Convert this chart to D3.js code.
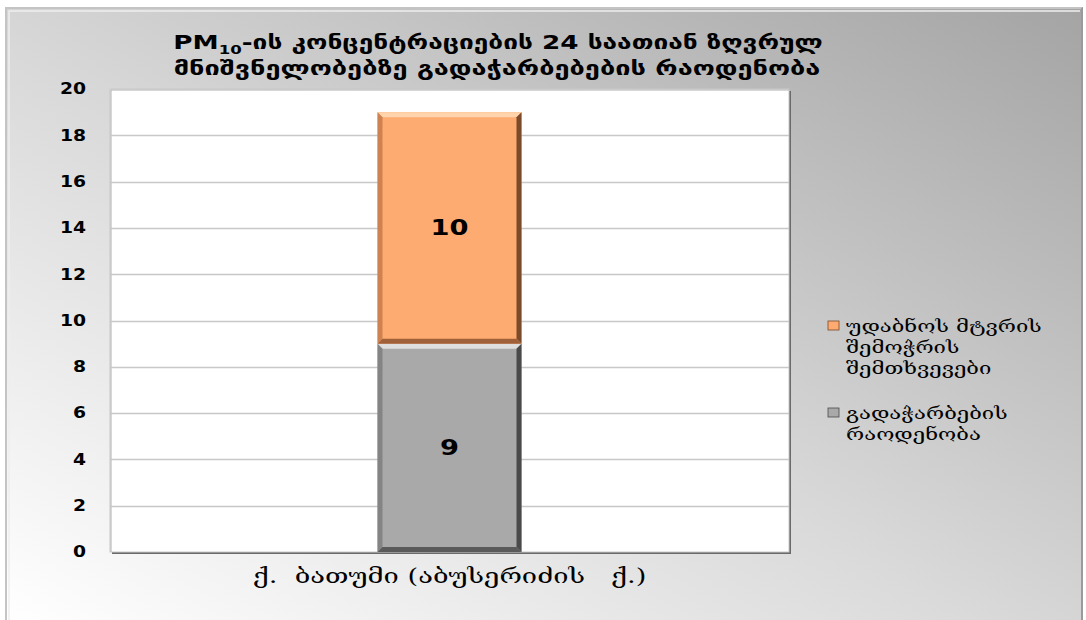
<!DOCTYPE html>
<html><head><meta charset="utf-8">
<script src="https://cdn.jsdelivr.net/npm/d3@7"></script>
<style>html,body{margin:0;padding:0;background:#fff;}svg{display:block;}</style>
</head><body>
<svg id="c" width="1086" height="620"></svg>
<script>
const categories = ["ქ.  ბათუმი (აბუსერიძის   ქ.)"];
const seriesNames = ["გადაჭარბების რაოდენობა", "უდაბნოს მტვრის შემოჭრის შემთხვევები"];
const exceedances = [9];
const dustEvents = [10];
const yTicks = [0, 2, 4, 6, 8, 10, 12, 14, 16, 18, 20];
const titleLine1 = ["PM", "10", "-ის კონცენტრაციების 24 საათიან ზღვრულ"];
const titleLine2 = "მნიშვნელობებზე გადაჭარბებების რაოდენობა";
const legendLines = [["უდაბნოს მტვრის", "შემოჭრის", "შემთხვევები"], ["გადაჭარბების", "რაოდენობა"]];

const svg = d3.select("#c");
const defs = svg.append("defs");
const g = defs.append("linearGradient").attr("id","bg").attr("x1",0).attr("y1",1).attr("x2",1).attr("y2",0);
g.append("stop").attr("offset",0).attr("stop-color","#ffffff");
g.append("stop").attr("offset",0.45).attr("stop-color","#dadada");
g.append("stop").attr("offset",1).attr("stop-color","#a4a4a4");

// horizontal stretch helper (reference text is horizontally wide)
function stretch(sel, f){
  sel.each(function(){
    const t = d3.select(this);
    const x0 = +(t.attr("x") || 0);
    t.attr("x", x0 / f).attr("transform", `scale(${f},1)`);
  });
}

// outer frame
svg.append("rect").attr("x",5).attr("y",7).attr("width",1078).attr("height",615).attr("fill","url(#bg)");
svg.append("path").attr("d","M6,620 V8 H1082").attr("fill","none").attr("stroke","#c4c4c4").attr("stroke-width",2);
svg.append("path").attr("d","M9,620 V11 H1080").attr("fill","none").attr("stroke","#eeeeee").attr("stroke-width",1.5);
svg.append("path").attr("d","M1082,8 V620").attr("fill","none").attr("stroke","#9a9a9a").attr("stroke-width",2);

const pl = 110, pr = 789, pt = 89, pb = 552;
const y = d3.scaleLinear().domain([0,20]).range([pb,pt]);
const x = d3.scaleBand().domain(categories).range([pl,pr]).padding(0.65);

// plot area with shadow
svg.append("rect").attr("x",pl+2).attr("y",pt+2).attr("width",pr-pl).attr("height",pb-pt).attr("fill","#6a6a6a");
svg.append("rect").attr("x",pl).attr("y",pt).attr("width",pr-pl).attr("height",pb-pt).attr("fill","#ffffff")
  .attr("stroke","#c8c8c8").attr("stroke-width",1);
svg.append("path").attr("d",`M${pl+1},${pb} V${pt+1} H${pr}`).attr("fill","none").attr("stroke","#b0b0b0").attr("stroke-width",1);

// gridlines
svg.append("g").selectAll("line").data(yTicks.filter(d=>d>0 && d<20)).join("line")
  .attr("x1",pl).attr("x2",pr).attr("y1",d=>Math.round(y(d))+0.5).attr("y2",d=>Math.round(y(d))+0.5)
  .attr("stroke","#c8c8c8").attr("stroke-width",1.3);

// y axis
const ya = svg.append("g").attr("transform",`translate(${pl},0)`)
  .call(d3.axisLeft(y).tickValues(yTicks).tickSize(0).tickPadding(24));
ya.select(".domain").remove();
ya.selectAll("text").attr("font-family","DejaVu Sans").attr("font-weight","bold").attr("font-size",15).attr("fill","#000");
stretch(ya.selectAll("text"), 1.25);

// stacked data
const rows = categories.map((c,i)=>({cat:c, a:exceedances[i], b:dustEvents[i]}));
const stack = d3.stack().keys(["a","b"])(rows);
const colors = {a:{fill:"#a9a9a9",top:"#dedede",right:"#4a4a4a",left:"#7a7a7a",bottom:"#5a5a5a"},
                b:{fill:"#fdab70",top:"#ffd3ab",right:"#7a4a2a",left:"#c07848",bottom:"#a0603a"}};
const bw = x.bandwidth();
stack.forEach(s=>{
  const c = colors[s.key];
  s.forEach(d=>{
    const x0 = x(d.data.cat), x1 = x0+bw, y0 = y(d[1]), y1 = y(d[0]);
    const gg = svg.append("g");
    gg.append("rect").attr("x",x0).attr("y",y0).attr("width",bw).attr("height",y1-y0).attr("fill",c.fill);
    const e = 5;
    gg.append("path").attr("d",`M${x0},${y0} H${x1} L${x1-e},${y0+e} H${x0+e} Z`).attr("fill",c.top);
    gg.append("path").attr("d",`M${x1},${y0} V${y1} L${x1-e},${y1-e} V${y0+e} Z`).attr("fill",c.right);
    gg.append("path").attr("d",`M${x0},${y0} V${y1} L${x0+e},${y1-e} V${y0+e} Z`).attr("fill",c.left).attr("opacity",0.8);
    gg.append("path").attr("d",`M${x0},${y1} H${x1} L${x1-e},${y1-e} H${x0+e} Z`).attr("fill",c.bottom);
    const lt = gg.append("text").attr("x",x0+bw/2).attr("y",(y0+y1)/2).attr("dy","0.36em").attr("text-anchor","middle")
      .attr("font-family","DejaVu Sans").attr("font-weight","bold").attr("font-size",21).attr("fill","#000")
      .text(d[1]-d[0]);
    stretch(lt, 1.3);
  });
});

// x axis label
const xa = svg.append("g").attr("transform",`translate(0,${pb})`).call(d3.axisBottom(x).tickSize(0).tickPadding(16));
xa.select(".domain").remove();
xa.selectAll("text").attr("font-family","DejaVu Serif").attr("font-size",21).attr("fill","#000").style("white-space","pre");
stretch(xa.selectAll("text"), 1.3);

// title
const t1 = svg.append("text").attr("x",498).attr("y",49).attr("text-anchor","middle")
  .attr("font-family","DejaVu Sans").attr("font-weight","bold").attr("font-size",19).attr("fill","#000");
t1.append("tspan").text(titleLine1[0]);
t1.append("tspan").attr("font-size",12).attr("dy",5).text(titleLine1[1]);
t1.append("tspan").attr("dy",-5).text(titleLine1[2]);
stretch(t1, 650 / t1.node().getComputedTextLength());
const t2 = svg.append("text").attr("x",497).attr("y",75).attr("text-anchor","middle")
  .attr("font-family","DejaVu Sans").attr("font-weight","bold").attr("font-size",19).attr("fill","#000").text(titleLine2);
stretch(t2, 647 / t2.node().getComputedTextLength());

// legend
const legColors = [colors.b, colors.a];
const legY = [326, 413];
legendLines.forEach((lines,i)=>{
  svg.append("rect").attr("x",828).attr("y",legY[i]-5).attr("width",11).attr("height",9).attr("fill",legColors[i].fill)
    .attr("stroke",legColors[i].right).attr("stroke-width",0.8);
  lines.forEach((ln,j)=>{
    const lt = svg.append("text").attr("x",846).attr("y",legY[i]+j*21).attr("dy","0.35em")
      .attr("font-family","DejaVu Serif").attr("font-size",17).attr("fill","#000").text(ln);
    stretch(lt, 1.3);
  });
});
</script>
</body></html>
